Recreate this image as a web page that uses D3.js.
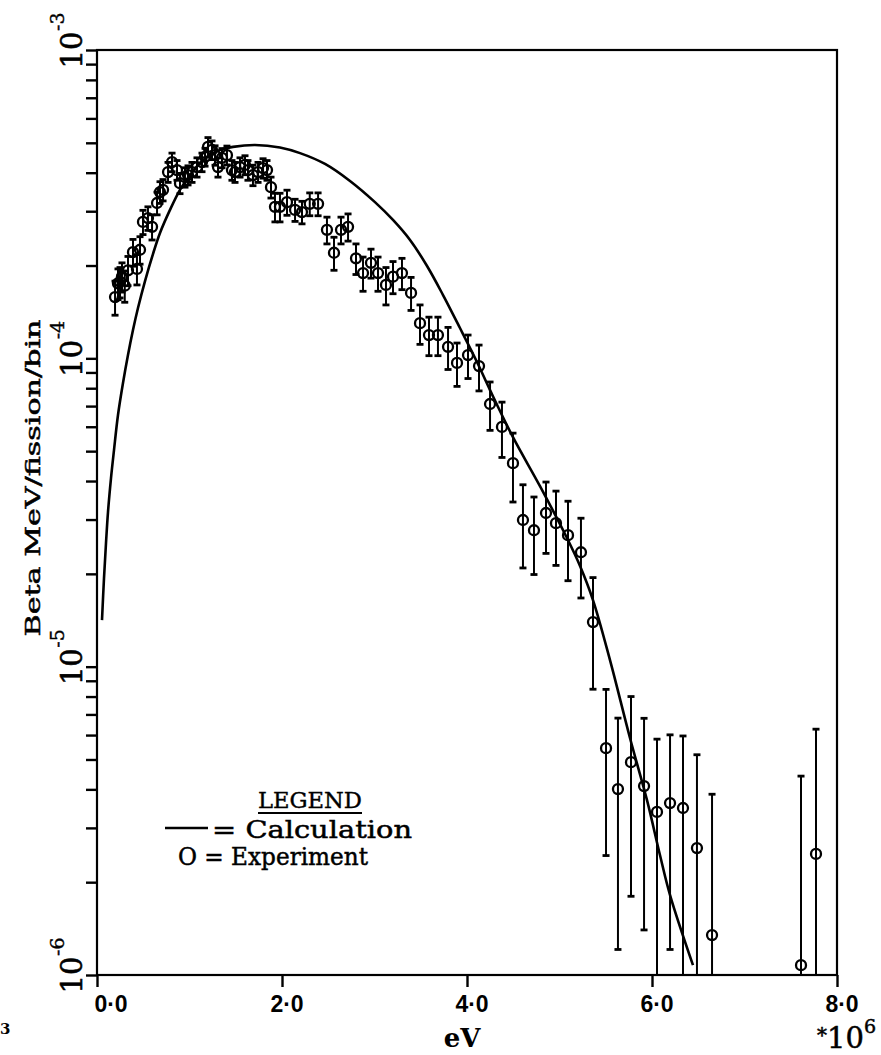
<!DOCTYPE html>
<html><head><meta charset="utf-8">
<script src="https://cdnjs.cloudflare.com/ajax/libs/d3/7.8.5/d3.min.js"></script>
<style>body{margin:0;background:#fff}svg{display:block}</style>
</head><body>
<script>
// ---- data (energy in MeV, values in units of 1e-4 Beta MeV/fission/bin) ----
const unit = 1e-4;
const expE = [0.195,0.227,0.249,0.270,0.300,0.335,0.389,0.432,0.465,0.497,0.551,0.595,0.649,0.681,0.714,0.768,0.811,0.865,0.897,0.951,0.984,1.027,1.081,1.135,1.168,1.200,1.243,1.276,1.308,1.351,1.405,1.459,1.492,1.546,1.600,1.632,1.686,1.741,1.795,1.838,1.881,1.924,1.978,2.054,2.141,2.216,2.300,2.390,2.486,2.562,2.638,2.714,2.800,2.876,2.962,3.038,3.124,3.200,3.297,3.395,3.492,3.589,3.686,3.795,3.892,4.011,4.130,4.249,4.378,4.497,4.605,4.724,4.854,4.962,5.092,5.232,5.362,5.503,5.632,5.773,5.914,6.054,6.195,6.335,6.486,6.649,7.611,7.773];
const expV = [1.58,1.75,1.77,1.84,1.72,1.93,2.21,1.95,2.25,2.77,2.85,2.67,3.19,3.46,3.52,4.02,4.33,4.08,3.70,3.87,3.93,4.02,4.17,4.33,4.50,4.85,4.74,4.56,4.17,4.47,4.56,4.08,4.02,4.17,4.24,4.08,3.93,4.02,4.14,4.08,3.59,3.10,3.10,3.21,3.03,2.98,3.17,3.17,2.61,2.20,2.61,2.67,2.11,1.89,2.04,1.89,1.73,1.84,1.89,1.63,1.30,1.19,1.19,1.09,0.966,1.025,0.944,0.711,0.599,0.457,0.299,0.277,0.315,0.292,0.267,0.235,0.1395,0.0544,0.0401,0.0490,0.0410,0.0338,0.0361,0.0348,0.0258,0.01347,0.01076,0.0247];
const expErr = [0.20,0.20,0.20,0.20,0.20,0.21,0.22,0.22,0.23,0.25,0.25,0.25,0.27,0.28,0.28,0.30,0.30,0.30,0.28,0.28,0.28,0.30,0.30,0.30,0.30,0.35,0.33,0.33,0.30,0.32,0.32,0.30,0.30,0.30,0.30,0.30,0.30,0.30,0.30,0.30,0.28,0.33,0.33,0.30,0.25,0.25,0.27,0.27,0.26,0.27,0.26,0.27,0.24,0.24,0.22,0.24,0.24,0.22,0.22,0.20,0.19,0.17,0.17,0.17,0.155,0.165,0.16,0.127,0.122,0.115,0.09,0.078,0.082,0.079,0.077,0.068,0.055,0.030,0.028,0.031,0.027,0.0244,0.024,0.0248,0.026,0.0251,0.0334,0.038];
const calcE = [0.054,0.0757,0.0973,0.1189,0.1514,0.1838,0.227,0.281,0.335,0.389,0.443,0.519,0.605,0.681,0.789,0.897,1.005,1.114,1.222,1.330,1.470,1.708,1.978,2.195,2.465,2.735,3.005,3.200,3.384,3.568,3.741,3.924,4.108,4.249,4.497,4.789,5.081,5.222,5.362,5.546,5.762,5.946,6.086,6.195,6.443];
const calcV = [0.1416,0.1938,0.2518,0.3173,0.409,0.504,0.655,0.832,1.025,1.235,1.456,1.781,2.179,2.55,3.03,3.52,3.93,4.30,4.56,4.74,4.85,4.92,4.83,4.63,4.27,3.76,3.21,2.81,2.42,1.993,1.604,1.254,0.973,0.789,0.555,0.385,0.2613,0.212,0.1644,0.105,0.0587,0.0369,0.0245,0.01816,0.01076];
const xTicks = [0,2,4,6,8];
const xTickLabels = ["0·0","2·0","4·0","6·0","8·0"];
const yDecadeExps = [-3,-4,-5,-6];
const yLabel = "Beta  MeV/fission/bin";
const xLabel = "eV";
const xMultiplier = "10";
const xMultiplierExp = "6";
const legendTitle = "LEGEND";
const legendCalc = "= Calculation";
const legendExp = "O = Experiment";

// ---- layout ----
const W = 881, H = 1055;
const X0 = 97, X1 = 837, Y0 = 50, Y1 = 975;
const serif = "'DejaVu Serif', serif";
const sans = "'Liberation Sans', Arial, sans-serif";

const svg = d3.select("body").append("svg").attr("width", W).attr("height", H);
svg.append("rect").attr("width", W).attr("height", H).attr("fill", "#fff");

const x = d3.scaleLinear().domain([0, 8]).range([X0, X1]);
const y = d3.scaleLog().domain([1e-6, 1e-3]).range([Y1, Y0]);

// frame
svg.append("rect").attr("x", X0).attr("y", Y0).attr("width", X1 - X0).attr("height", Y1 - Y0)
  .attr("fill", "none").attr("stroke", "#000").attr("stroke-width", 2.2);

// y minor/major ticks
const yTickVals = [];
for (let e = -6; e < -3; e++) for (let m = 1; m <= 9; m++) yTickVals.push(m * Math.pow(10, e));
yTickVals.push(1e-3);
const yAxis = d3.axisLeft(y).tickValues(yTickVals).tickSize(11).tickFormat("");
const gy = svg.append("g").attr("transform", `translate(${X0},0)`).call(yAxis);
gy.select(".domain").remove();
gy.selectAll(".tick line").attr("stroke", "#000").attr("stroke-width", 2.4);

// x ticks
const xAxis = d3.axisBottom(x).tickValues(xTicks).tickSize(12).tickFormat("");
const gx = svg.append("g").attr("transform", `translate(0,${Y1})`).call(xAxis);
gx.select(".domain").remove();
gx.selectAll(".tick line").attr("stroke", "#000").attr("stroke-width", 2.4);

// x tick labels
svg.selectAll("text.xt").data(xTicks).enter().append("text").attr("class", "xt")
  .attr("x", (d, i) => x(d) + (i === 0 ? 14 : 5)).attr("y", Y1 + 37)
  .attr("text-anchor", "middle").attr("font-family", sans).attr("font-weight", "bold")
  .attr("font-size", 23).text((d, i) => xTickLabels[i]);

// y decade labels (rotated)
yDecadeExps.forEach(e => {
  const g = svg.append("g").attr("transform", `translate(82,${y(Math.pow(10, e))}) rotate(-90)`);
  g.append("text").attr("x", 0).attr("y", 0).attr("text-anchor", "middle")
    .attr("font-family", serif).attr("font-size", 29).attr("stroke", "#000").attr("stroke-width", 0.6)
    .text("10");
  g.append("text").attr("x", 19).attr("y", -18).attr("text-anchor", "start")
    .attr("font-family", serif).attr("font-size", 19).attr("stroke", "#000").attr("stroke-width", 0.4)
    .text("-" + (-e));
});

// axis titles
svg.append("text").attr("transform", `translate(40,478) rotate(-90)`)
  .attr("text-anchor", "middle").attr("font-family", serif).attr("font-size", 21)
  .attr("stroke", "#000").attr("stroke-width", 0.5)
  .attr("textLength", 317).attr("lengthAdjust", "spacingAndGlyphs").text(yLabel);
svg.append("text").attr("x", 462).attr("y", 1047).attr("text-anchor", "middle")
  .attr("font-family", serif).attr("font-weight", "bold").attr("font-size", 26).text(xLabel);
const mt = svg.append("text").attr("x", 817).attr("y", 1048).attr("font-family", serif).attr("font-size", 29)
  .attr("stroke", "#000").attr("stroke-width", 0.5);
mt.append("tspan").attr("font-size", 20).attr("dy", -6).text("*");
mt.append("tspan").attr("dy", 6).text(xMultiplier);
mt.append("tspan").attr("font-size", 19).attr("dy", -15).text(xMultiplierExp);
svg.append("text").attr("x", 0).attr("y", 1034).attr("font-family", serif).attr("font-weight", "bold")
  .attr("font-size", 15).text("3");

// calculation curve
const line = d3.line().x(d => x(d[0])).y(d => y(d[1] * unit)).curve(d3.curveCatmullRom.alpha(0.5));
svg.append("path").datum(calcE.map((e, i) => [e, calcV[i]]))
  .attr("d", line).attr("fill", "none").attr("stroke", "#000").attr("stroke-width", 2.6);

// experiment with error bars
const pts = expE.map((e, i) => ({e, v: expV[i], err: expErr[i]}));
const eg = svg.append("g").attr("stroke", "#000");
pts.forEach(p => {
  const hi = (p.v + p.err) * unit;
  const loRaw = (p.v - p.err) * unit;
  const lo = Math.max(loRaw, 1e-6);
  const cx = x(p.e);
  eg.append("line").attr("x1", cx).attr("x2", cx).attr("y1", y(hi)).attr("y2", y(lo)).attr("stroke-width", 2);
  eg.append("line").attr("x1", cx - 3.5).attr("x2", cx + 3.5).attr("y1", y(hi)).attr("y2", y(hi)).attr("stroke-width", 2.8);
  if (loRaw > 1e-6) eg.append("line").attr("x1", cx - 3.5).attr("x2", cx + 3.5).attr("y1", y(lo)).attr("y2", y(lo)).attr("stroke-width", 2.8);
  eg.append("circle").attr("cx", cx).attr("cy", y(p.v * unit)).attr("r", 5)
    .attr("fill", "none").attr("stroke-width", 2.3);
});

// legend
svg.append("text").attr("x", 310).attr("y", 808).attr("text-anchor", "middle")
  .attr("font-family", serif).attr("font-size", 23).attr("stroke", "#000").attr("stroke-width", 0.4)
  .attr("textLength", 104).attr("lengthAdjust", "spacingAndGlyphs").text(legendTitle);
svg.append("line").attr("x1", 258).attr("x2", 362).attr("y1", 813).attr("y2", 813)
  .attr("stroke", "#000").attr("stroke-width", 1.8);
svg.append("line").attr("x1", 165).attr("x2", 208).attr("y1", 828).attr("y2", 828)
  .attr("stroke", "#000").attr("stroke-width", 2.6);
svg.append("text").attr("x", 212).attr("y", 838).attr("font-family", serif).attr("font-size", 25)
  .attr("stroke", "#000").attr("stroke-width", 0.5)
  .attr("textLength", 200).attr("lengthAdjust", "spacingAndGlyphs").text(legendCalc);
svg.append("text").attr("x", 178).attr("y", 865).attr("font-family", serif).attr("font-size", 25)
  .attr("stroke", "#000").attr("stroke-width", 0.5)
  .attr("textLength", 190).attr("lengthAdjust", "spacingAndGlyphs").text(legendExp);
</script>
</body></html>
